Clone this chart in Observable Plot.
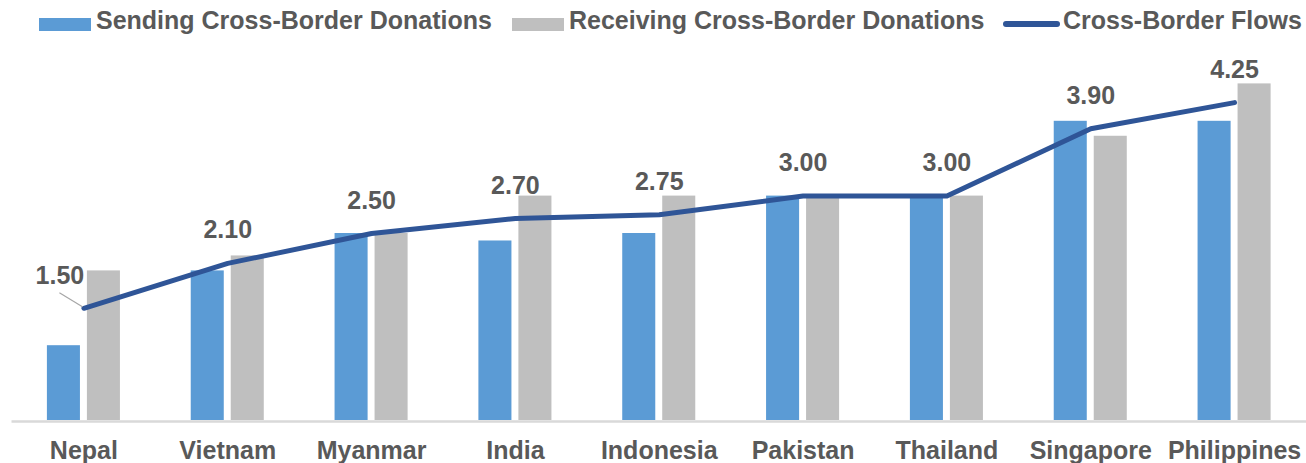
<!DOCTYPE html>
<html>
<head>
<meta charset="utf-8">
<script src="https://cdn.jsdelivr.net/npm/d3@7"></script>
<script src="https://cdn.jsdelivr.net/npm/@observablehq/plot@0.6"></script>
<style>
  html, body { margin: 0; padding: 0; background: #fff; }
  #wrap { position: relative; width: 1306px; height: 463px; font-family: "Liberation Sans", Arial, sans-serif; font-weight: bold; color: #595959; }
  #legend { position: relative; height: 40px; font-size: 25px; }
  .item { position: absolute; top: 0; height: 40px; }
  .sw { position: absolute; }
  .lab { position: absolute; top: 5px; white-space: nowrap; line-height: 30px; }
  #chart { position: absolute; top: 40px; left: 0; }
</style>
</head>
<body>
<div id="wrap">
  <div id="legend"></div>
  <div id="chart"></div>
</div>
<script>
const countries = ["Nepal", "Vietnam", "Myanmar", "India", "Indonesia", "Pakistan", "Thailand", "Singapore", "Philippines"];
const sending   = [1.0, 2.0, 2.5, 2.4, 2.5, 3.0, 3.0, 4.0, 4.0];
const receiving = [2.0, 2.2, 2.5, 3.0, 3.0, 3.0, 3.0, 3.8, 4.5];
const flows     = [1.50, 2.10, 2.50, 2.70, 2.75, 3.00, 3.00, 3.90, 4.25];
const seriesNames = ["Sending Cross-Border Donations", "Receiving Cross-Border Donations", "Cross-Border Flows"];
const colors = ["#5B9BD5", "#BFBFBF", "#2F5597"];

const data = countries.map((c, i) => ({country: c, sending: sending[i], receiving: receiving[i], flows: flows[i]}));

// Legend
const legend = document.getElementById("legend");
const legendLayout = [
  {left: 39, kind: "rect"},
  {left: 512, kind: "rect"},
  {left: 1003, kind: "line"}
];
seriesNames.forEach((name, i) => {
  const it = document.createElement("div");
  it.className = "item";
  it.style.left = legendLayout[i].left + "px";
  const sw = document.createElement("div");
  sw.className = "sw";
  if (legendLayout[i].kind === "rect") {
    sw.style.cssText = `left:0;top:18px;width:52px;height:13px;background:${colors[i]}`;
  } else {
    sw.style.cssText = `left:0;top:21px;width:57px;height:6px;border-radius:3px;background:${colors[i]}`;
  }
  const lab = document.createElement("div");
  lab.className = "lab";
  lab.style.left = (legendLayout[i].kind === "rect" ? 57 : 60) + "px";
  lab.textContent = name;
  it.appendChild(sw);
  it.appendChild(lab);
  legend.appendChild(it);
});

const leader = (index, scales) => {
  const x = scales.x, y = scales.y;
  const step = x(countries[1]) - x(countries[0]);
  const px = x(countries[0]) + step / 2;
  const py = y(flows[0]);
  const l = document.createElementNS("http://www.w3.org/2000/svg", "line");
  l.setAttribute("x1", px - 24);
  l.setAttribute("y1", py - 15);
  l.setAttribute("x2", px - 1);
  l.setAttribute("y2", py - 1);
  l.setAttribute("stroke", "#A6A6A6");
  l.setAttribute("stroke-width", 1.2);
  return l;
};

const plot = Plot.plot({
  width: 1306,
  height: 423,
  marginLeft: 11.5,
  marginRight: 0,
  marginTop: 6,
  marginBottom: 43,
  style: {fontFamily: "Liberation Sans, Arial, sans-serif", fontSize: "25px", fontWeight: "bold", color: "#595959", background: "transparent", overflow: "visible"},
  x: {type: "band", domain: countries, padding: 0, round: false, tickSize: 0, tickPadding: 21, label: null},
  y: {domain: [0, 5], axis: null},
  marks: [
    Plot.barY(data, {x: "country", y: "sending", fill: colors[0], insetLeft: 55.4, insetRight: 55.4, dx: -20}),
    Plot.barY(data, {x: "country", y: "receiving", fill: colors[1], insetLeft: 55.4, insetRight: 55.4, dx: 20}),
    Plot.ruleY([0], {stroke: "#D9D9D9", strokeWidth: 2.5, dy: 1}),
    Plot.line(data, {x: "country", y: "flows", stroke: colors[2], strokeWidth: 5, strokeLinecap: "round", strokeLinejoin: "round"}),
    leader,
    Plot.text(data.slice(0, 1), {x: "country", y: "flows", text: d => d.flows.toFixed(2), dx: -24, dy: -24, lineAnchor: "bottom", fontSize: 25, fontWeight: "bold", fill: "#595959"}),
    Plot.text(data.slice(1), {x: "country", y: "flows", text: d => d.flows.toFixed(2), dy: -25, lineAnchor: "bottom", fontSize: 25, fontWeight: "bold", fill: "#595959"})
  ]
});
document.getElementById("chart").appendChild(plot);
</script>
</body>
</html>
